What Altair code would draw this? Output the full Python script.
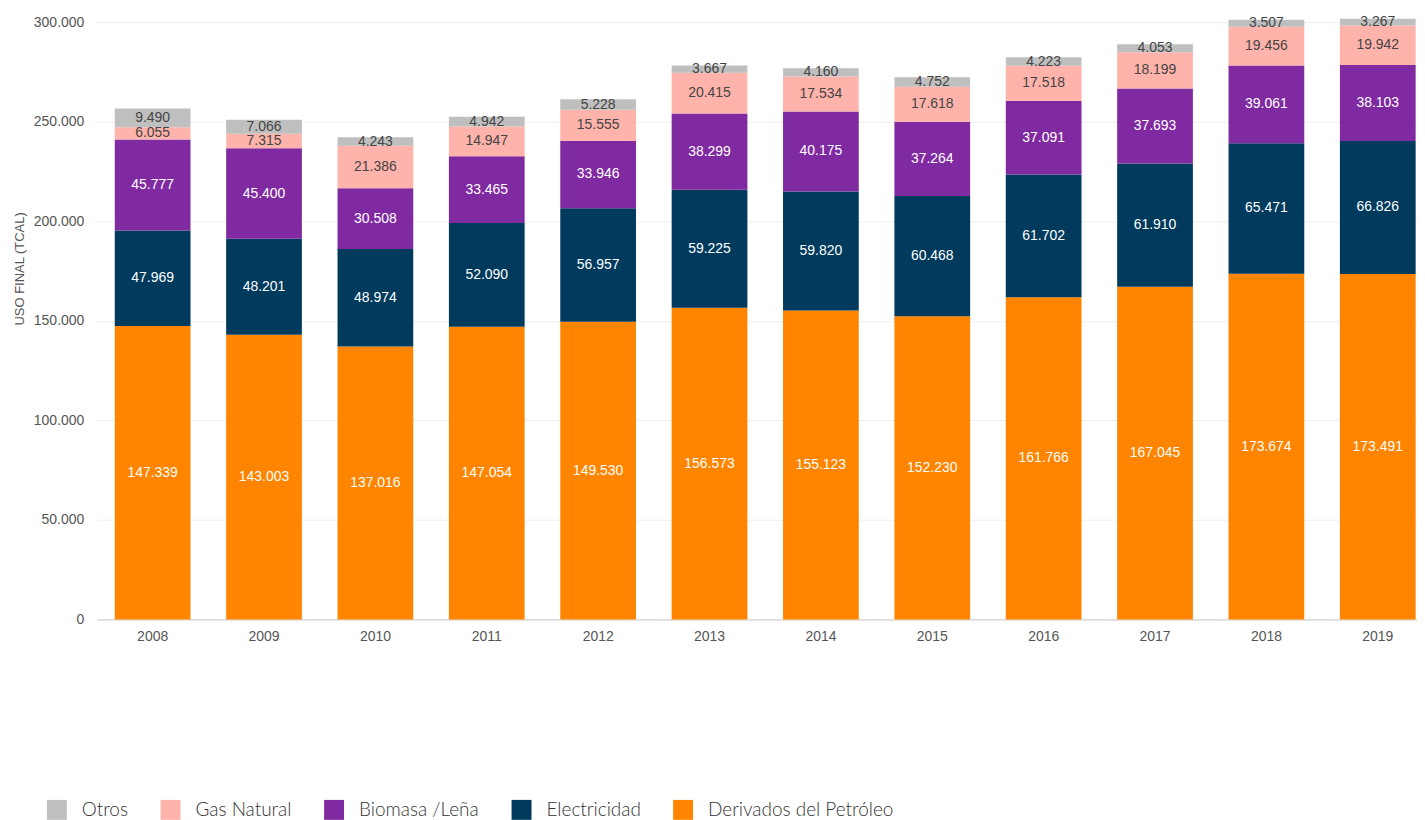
import altair as alt
import pandas as pd

years = [2008, 2009, 2010, 2011, 2012, 2013, 2014, 2015, 2016, 2017, 2018, 2019]
series = ["Derivados del Petróleo", "Electricidad", "Biomasa /Leña", "Gas Natural", "Otros"]
derivados = [147339, 143003, 137016, 147054, 149530, 156573, 155123, 152230, 161766, 167045, 173674, 173491]
electricidad = [47969, 48201, 48974, 52090, 56957, 59225, 59820, 60468, 61702, 61910, 65471, 66826]
biomasa = [45777, 45400, 30508, 33465, 33946, 38299, 40175, 37264, 37091, 37693, 39061, 38103]
gas_natural = [6055, 7315, 21386, 14947, 15555, 20415, 17534, 17618, 17518, 18199, 19456, 19942]
otros = [9490, 7066, 4243, 4942, 5228, 3667, 4160, 4752, 4223, 4053, 3507, 3267]
values = [derivados, electricidad, biomasa, gas_natural, otros]
bar_colors = ["#ff8500", "#003a5d", "#7f2aa0", "#ffb3ab", "#bfbfbf"]
text_colors = ["#ffffff", "#ffffff", "#ffffff", "#444444", "#444444"]
legend_order = ["Otros", "Gas Natural", "Biomasa /Leña", "Electricidad", "Derivados del Petróleo"]
y_ticks = [0, 50000, 100000, 150000, 200000, 250000, 300000]

rows = []
for i, s in enumerate(series):
    for y, v in zip(years, values[i]):
        rows.append(dict(year=str(y), serie=s, value=v, ord=i,
                         label=f"{v:,}".replace(",", "."), tc=text_colors[i]))
df = pd.DataFrame(rows)

color_range = [bar_colors[series.index(s)] for s in legend_order]

base = alt.Chart(df).transform_stack(
    stack="value", groupby=["year"],
    sort=[alt.SortField("ord", order="ascending")], as_=["y0", "y1"]
).transform_calculate(mid="(datum.y0 + datum.y1) / 2")

x = alt.X("year:N", title=None,
          scale=alt.Scale(paddingInner=0.32, paddingOuter=0.087, align=0.93),
          axis=alt.Axis(labelAngle=0, labelFont="Liberation Sans", labelFontSize=14,
                        labelColor="#555555", ticks=False, labelPadding=10,
                        domainColor="#cccccc", grid=False))

bars = base.mark_bar().encode(
    x=x,
    y=alt.Y("y0:Q", title="USO FINAL (TCAL)",
            scale=alt.Scale(domain=[0, 300000], nice=False),
            axis=alt.Axis(values=y_ticks,
                          labelExpr="replace(format(datum.value, ',d'), ',', '.')",
                          labelFont="Liberation Sans", labelFontSize=14, labelColor="#555555",
                          ticks=False, domain=False, labelPadding=13,
                          gridColor="#eeeeee", titleFont="Liberation Sans",
                          titleFontSize=13, titleFontWeight="normal", titleColor="#555555",
                          titlePadding=7, titleY=247)),
    y2="y1",
    color=alt.Color("serie:N", scale=alt.Scale(domain=legend_order, range=color_range),
                    legend=alt.Legend(title=None, orient="none", direction="horizontal",
                                      legendX=-50, legendY=780,
                                      labelFont="Lato", labelFontSize=19,
                                      labelFontWeight=300, labelColor="#333333",
                                      labelLimit=0,
                                      symbolType="square", symbolSize=400,
                                      symbolStrokeWidth=0, symbolOpacity=1,
                                      labelOffset=15, columnPadding=32)),
)

text = base.mark_text(font="Liberation Sans", fontSize=14).encode(
    x=x,
    y=alt.Y("mid:Q"),
    text="label:N",
    color=alt.Color("tc:N", scale=None),
)

chart = alt.layer(bars, text).properties(
    width=1324, height=599,
    padding={"top": 6, "left": 5, "right": 0, "bottom": 0},
    background="white",
).configure_view(stroke=None)

chart.save("out.html", embed_options={"renderer": "svg", "actions": False})
